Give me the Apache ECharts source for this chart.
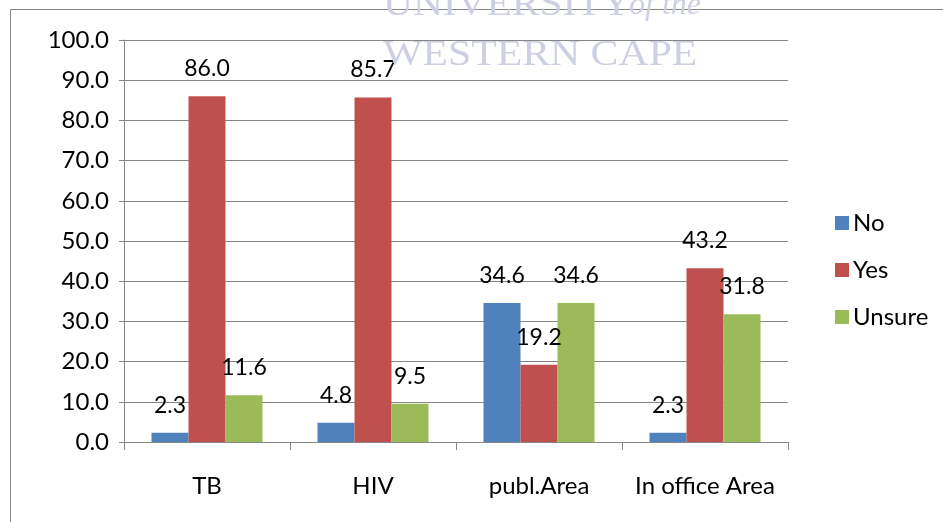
<!DOCTYPE html>
<html>
<head>
<meta charset="utf-8">
<script src="https://cdn.jsdelivr.net/npm/echarts@6/dist/echarts.min.js"></script>
<style>
	html, body { margin: 0; padding: 0; background: #fff; }
	#chart { width: 943px; height: 522px; }
</style>
</head>
<body>
<div id="chart"></div>
<script>
// categories and values
const categories = ['TB', 'HIV', 'publ.Area', 'In office Area']
const noValues = [2.3, 4.8, 34.6, 2.3]
const yesValues = [86.0, 85.7, 19.2, 43.2]
const unsureValues = [11.6, 9.5, 34.6, 31.8]
const seriesNames = ['No', 'Yes', 'Unsure']

const font = 'Lato, "Open Sans", sans-serif'
const grey = '#868686'
const markColor = '#cdd0e3'

const chart = echarts.init(document.getElementById('chart'))

function barSeries(name, data, color) {
	return {
		name: name,
		type: 'bar',
		data: data,
		barWidth: 37,
		barGap: '0%',
		itemStyle: { color: color },
		label: {
			show: true,
			position: 'top',
			distance: 16,
			color: '#000',
			fontFamily: font,
			fontSize: 23,
			formatter: p => p.value.toFixed(1),
		},
	}
}

const option = {
	animation: false,
	backgroundColor: '#fff',
	grid: {
		left: 124,
		right: 155,
		top: 40,
		bottom: 80,
	},
	legend: {
		orient: 'vertical',
		left: 830,
		top: 206,
		itemWidth: 14,
		itemHeight: 14,
		itemGap: 23,
		icon: 'rect',
		textStyle: {
			color: '#000',
			fontFamily: font,
			fontSize: 24,
			padding: [0, 0, 0, -1],
		},
		data: seriesNames,
	},
	xAxis: {
		type: 'category',
		data: categories,
		axisLine: { lineStyle: { color: grey, width: 1 } },
		axisTick: { show: true, length: 8, lineStyle: { color: grey } },
		axisLabel: {
			color: '#000',
			fontFamily: font,
			fontSize: 24,
			margin: 32,
			interval: 0,
		},
	},
	yAxis: {
		type: 'value',
		min: 0,
		max: 100,
		interval: 10,
		axisLine: { show: true, lineStyle: { color: grey } },
		axisTick: { show: true, length: 5, lineStyle: { color: grey } },
		splitLine: { lineStyle: { color: grey, width: 1 } },
		axisLabel: {
			color: '#000',
			fontFamily: font,
			fontSize: 24,
			margin: 15,
			formatter: v => v.toFixed(1),
		},
	},
	graphic: [
		// outer chart border
		{
			type: 'rect',
			shape: { x: 10.5, y: 9.5, width: 1000, height: 600 },
			style: { fill: 'none', stroke: grey, lineWidth: 1 },
			z: 0,
		},
		// faint watermark
		{
			type: 'text',
			left: 383,
			top: -12,
			scaleX: 1.15,
			style: {
				text: 'UNIVERSITY',
				fill: markColor,
				font: '36px "Liberation Serif", serif',
			},
			z: 100,
		},
		{
			type: 'text',
			left: 629,
			top: -10,
			style: {
				text: 'of the',
				fill: markColor,
				font: 'italic 32px "Liberation Serif", serif',
			},
			z: 100,
		},
		{
			type: 'text',
			left: 383,
			top: 38,
			scaleX: 1.16,
			style: {
				text: 'WESTERN CAPE',
				fill: markColor,
				font: '36px "Liberation Serif", serif',
			},
			z: 100,
		},
	],
	series: [
		barSeries('No', noValues, '#4f81bd'),
		barSeries('Yes', yesValues, '#c0504d'),
		barSeries('Unsure', unsureValues, '#9bbb59'),
	],
}
chart.setOption(option)
</script>
</body>
</html>
